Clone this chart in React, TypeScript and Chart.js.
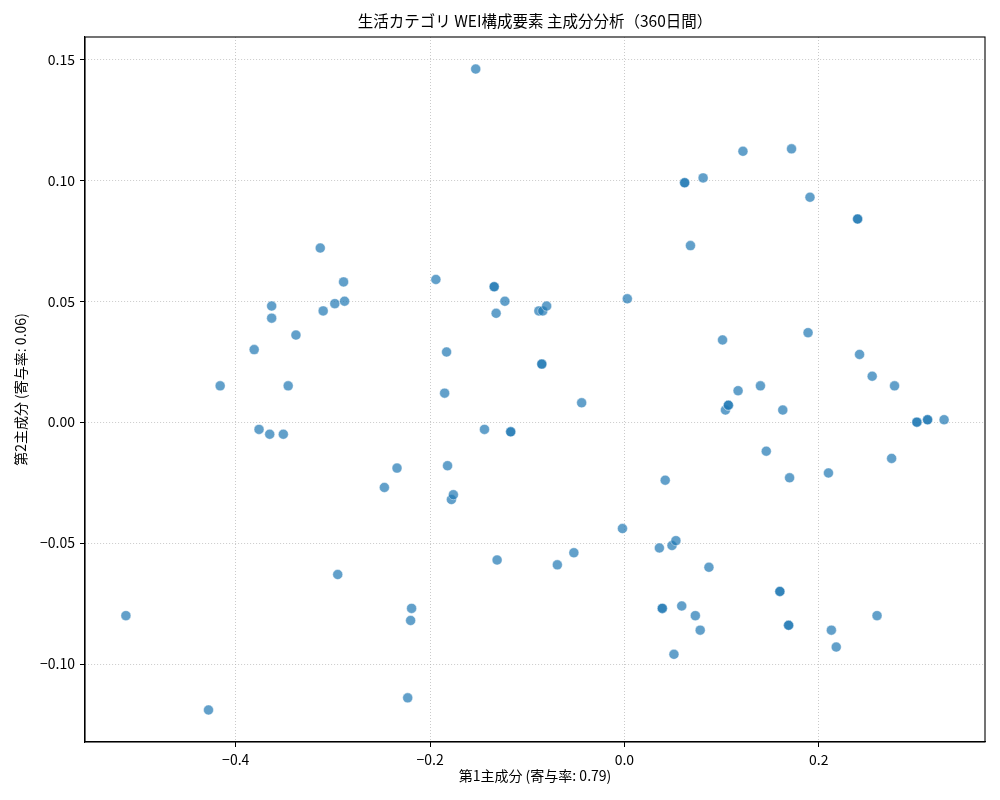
import React, { useEffect, useRef } from "react";
import { Chart, registerables } from "chart.js";

Chart.register(...registerables);

const TITLE = "生活カテゴリ WEI構成要素 主成分分析（360日間）";
const X_LABEL = "第1主成分 (寄与率: 0.79)";
const Y_LABEL = "第2主成分 (寄与率: 0.06)";

const pc1: number[] = [
  -0.513, -0.428, -0.416, -0.381, -0.376, -0.365, -0.363, -0.363, -0.351, -0.346,
  -0.338, -0.313, -0.31, -0.298, -0.289, -0.288, -0.295, -0.247, -0.234, -0.223,
  -0.22, -0.219, -0.194, -0.185, -0.183, -0.182, -0.178, -0.176, -0.153, -0.144,
  -0.134, -0.134, -0.132, -0.131, -0.123, -0.117, -0.117, -0.088, -0.085, -0.085,
  -0.084, -0.08, -0.069, -0.052, -0.044, -0.002, 0.003, 0.036, 0.039, 0.039,
  0.042, 0.049, 0.051, 0.053, 0.059, 0.062, 0.062, 0.068, 0.073, 0.078,
  0.081, 0.087, 0.101, 0.104, 0.107, 0.107, 0.117, 0.122, 0.14, 0.146,
  0.16, 0.16, 0.163, 0.169, 0.169, 0.17, 0.172, 0.189, 0.191, 0.21,
  0.213, 0.218, 0.24, 0.24, 0.242, 0.255, 0.26, 0.275, 0.278, 0.301,
  0.301, 0.312, 0.312, 0.329,
];

const pc2: number[] = [
  -0.08, -0.119, 0.015, 0.03, -0.003, -0.005, 0.048, 0.043, -0.005, 0.015,
  0.036, 0.072, 0.046, 0.049, 0.058, 0.05, -0.063, -0.027, -0.019, -0.114,
  -0.082, -0.077, 0.059, 0.012, 0.029, -0.018, -0.032, -0.03, 0.146, -0.003,
  0.056, 0.056, 0.045, -0.057, 0.05, -0.004, -0.004, 0.046, 0.024, 0.024,
  0.046, 0.048, -0.059, -0.054, 0.008, -0.044, 0.051, -0.052, -0.077, -0.077,
  -0.024, -0.051, -0.096, -0.049, -0.076, 0.099, 0.099, 0.073, -0.08, -0.086,
  0.101, -0.06, 0.034, 0.005, 0.007, 0.007, 0.013, 0.112, 0.015, -0.012,
  -0.07, -0.07, 0.005, -0.084, -0.084, -0.023, 0.113, 0.037, 0.093, -0.021,
  -0.086, -0.093, 0.084, 0.084, 0.028, 0.019, -0.08, -0.015, 0.015, 0.0,
  0.0, 0.001, 0.001, 0.001,
];

const X_STEP = 0.2;
const Y_STEP = 0.05;

const FONT = "'Noto Sans CJK JP', 'Noto Sans', sans-serif";

function fmt(v: number, d: number): string {
  const s = Math.abs(v).toFixed(d);
  return v < -1e-9 ? "\u2212" + s : s;
}

function padRange(vals: number[]): [number, number] {
  const lo = Math.min(...vals);
  const hi = Math.max(...vals);
  const m = (hi - lo) * 0.05;
  return [lo - m, hi + m];
}

const framePlugin = {
  id: "frame",
  afterDraw(chart: any) {
    const { ctx, chartArea } = chart;
    ctx.save();
    ctx.strokeStyle = "#000";
    ctx.lineWidth = 1.1;
    ctx.setLineDash([]);
    ctx.strokeRect(chartArea.left, chartArea.top, chartArea.right - chartArea.left, chartArea.bottom - chartArea.top);
    ctx.restore();
  },
};

const gridOpts = {
  color: "rgba(176,176,176,0.75)",
  lineWidth: 0.9,
  tickColor: "#000",
  tickLength: 5,
  tickWidth: 1,
  tickBorderDash: [],
};

export default function App() {
  const ref = useRef<HTMLCanvasElement | null>(null);

  useEffect(() => {
    document.body.style.margin = "0";
    if (!ref.current) return;
    const [xmin, xmax] = padRange(pc1);
    const [ymin, ymax] = padRange(pc2);
    const points = pc1.map((x, i) => ({ x, y: pc2[i] }));
    const chart = new Chart(ref.current, {
      type: "scatter",
      data: {
        datasets: [
          {
            data: points,
            backgroundColor: "rgba(31,119,180,0.7)",
            borderColor: "rgba(255,255,255,0.7)",
            borderWidth: 0.6,
            pointRadius: 5,
            pointHoverRadius: 5,
          },
        ],
      },
      options: {
        responsive: false,
        animation: false,
        devicePixelRatio: 1,
        layout: { padding: { left: 0, right: 15, top: 0, bottom: 0 } },
        plugins: {
          legend: { display: false },
          tooltip: { enabled: false },
          title: {
            display: true,
            fullSize: false,
            text: TITLE,
            color: "#000",
            font: { family: FONT, size: 15.5, weight: "normal", lineHeight: 1 },
            padding: { top: 13, bottom: 8.5 },
          },
        },
        scales: {
          x: {
            type: "linear",
            min: xmin,
            max: xmax,
            afterFit: (s: any) => {
              s.height = 58;
            },
            border: { display: true, color: "#000", width: 1.1, dash: [1, 2] },
            grid: gridOpts,
            ticks: {
              stepSize: X_STEP,
              includeBounds: false,
              color: "#000",
              padding: 4,
              maxRotation: 0,
              font: { family: FONT, size: 14 },
              callback: (v: any) => fmt(Number(v), 1),
            },
            title: {
              display: true,
              text: X_LABEL,
              color: "#000",
              font: { family: FONT, size: 14, lineHeight: 1 },
              padding: { top: 0, bottom: 17 },
            },
          },
          y: {
            type: "linear",
            min: ymin,
            max: ymax,
            afterFit: (s: any) => {
              s.width = 85;
            },
            border: { display: true, color: "#000", width: 1.1, dash: [1, 2] },
            grid: gridOpts,
            ticks: {
              stepSize: Y_STEP,
              includeBounds: false,
              color: "#000",
              padding: 5,
              font: { family: FONT, size: 14 },
              callback: (v: any) => fmt(Number(v), 2),
            },
            title: {
              display: true,
              text: Y_LABEL,
              color: "#000",
              font: { family: FONT, size: 14, lineHeight: 1 },
              padding: { top: 14, bottom: 0 },
            },
          },
        },
      },
      plugins: [framePlugin],
    });
    return () => chart.destroy();
  }, []);

  return (
    <div style={{ width: 1000, height: 800, background: "#fff" }}>
      <canvas ref={ref} width={1000} height={800} />
    </div>
  );
}
